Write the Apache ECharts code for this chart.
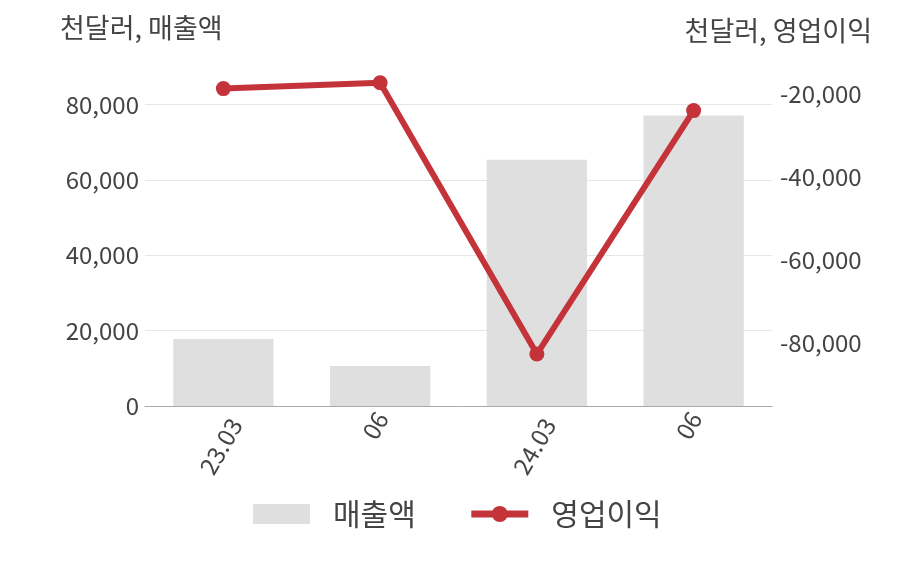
<!DOCTYPE html>
<html><head><meta charset="utf-8">
<script src="https://cdn.jsdelivr.net/npm/echarts@6/dist/echarts.min.js"></script>
<style>html,body{margin:0;padding:0;background:#fff}#c{width:908px;height:580px}</style>
</head><body><div id="c"></div>
<script>
const categories = ['23.03', '06', '24.03', '06'];
const salesValues = [17800, 10600, 65400, 77100];
const opProfitValues = [-18800, -17400, -82700, -24100];
const leftTicks = [0, 20000, 40000, 60000, 80000];
const rightTicks = [-80000, -60000, -40000, -20000];

const FONT = '"Noto Sans CJK KR", "Noto Sans", sans-serif';
const fmt = v => v.toLocaleString('en-US');
// rotated labels are centred horizontally on their category (top edge fixed):
// build one rich style per label length that nudges it sideways
const richStyles = {};
categories.forEach(c => {
  const shift = 3.6 * c.length - 5.5;
  const s = Math.max(0, shift / 0.866);
  richStyles['p' + c.length] = { fontSize: 24, color: '#444', fontFamily: FONT, padding: [2 * s, 0, 0, 0] };
});
const chart = echarts.init(document.getElementById('c'));
chart.setOption({
  animation: false,
  textStyle: { fontFamily: FONT },
  grid: { left: 145, right: 136, top: 67, bottom: 174, outerBoundsMode: 'none', containLabel: false },
  legend: {
    top: 494, left: 248, itemGap: 52, itemWidth: 57, itemHeight: 20,
    lineStyle: { width: 7 },
    textStyle: { fontSize: 30, color: '#444', fontFamily: FONT, padding: [0, 0, 0, 18] },
    data: [{ name: '매출액', icon: 'rect' }, { name: '영업이익' }]
  },
  xAxis: {
    type: 'category', data: categories,
    axisLine: { lineStyle: { color: '#aaa', width: 1 } },
    axisTick: { show: false },
    axisLabel: {
      rotate: 60, fontSize: 24, color: '#444', margin: 7, fontFamily: FONT,
      formatter: v => '{p' + v.length + '|' + v + '}', rich: richStyles
    }
  },
  yAxis: [{
    type: 'value', min: 0, max: 90000,
    name: '천달러, 매출액', nameLocation: 'end', nameGap: 39,
    nameTextStyle: { fontSize: 27, color: '#444', align: 'left', verticalAlign: 'middle', padding: [0, 0, 0, -85], fontFamily: FONT },
    axisLine: { show: false }, axisTick: { show: false },
    splitLine: { show: true, showMaxLine: false, lineStyle: { color: '#e6e6e6' } },
    axisLabel: { fontSize: 24, color: '#444', margin: 6, formatter: fmt, customValues: leftTicks, fontFamily: FONT }
  }, {
    type: 'value', min: -95200, max: -13600,
    name: '천달러, 영업이익', nameLocation: 'end', nameGap: 36,
    nameTextStyle: { fontSize: 27, color: '#444', align: 'right', verticalAlign: 'middle', padding: [0, -100, 0, 0], fontFamily: FONT },
    axisLine: { show: false }, axisTick: { show: false },
    splitLine: { show: false },
    axisLabel: { fontSize: 24, color: '#444', margin: 8, formatter: fmt, customValues: rightTicks, fontFamily: FONT }
  }],
  series: [{
    name: '매출액', type: 'bar', data: salesValues, yAxisIndex: 0,
    barWidth: '64%', itemStyle: { color: '#dfdfdf' }
  }, {
    name: '영업이익', type: 'line', data: opProfitValues, yAxisIndex: 1,
    symbol: 'circle', symbolSize: 15,
    lineStyle: { color: '#c4333a', width: 6 }, itemStyle: { color: '#c4333a' }
  }]
});
</script></body></html>
